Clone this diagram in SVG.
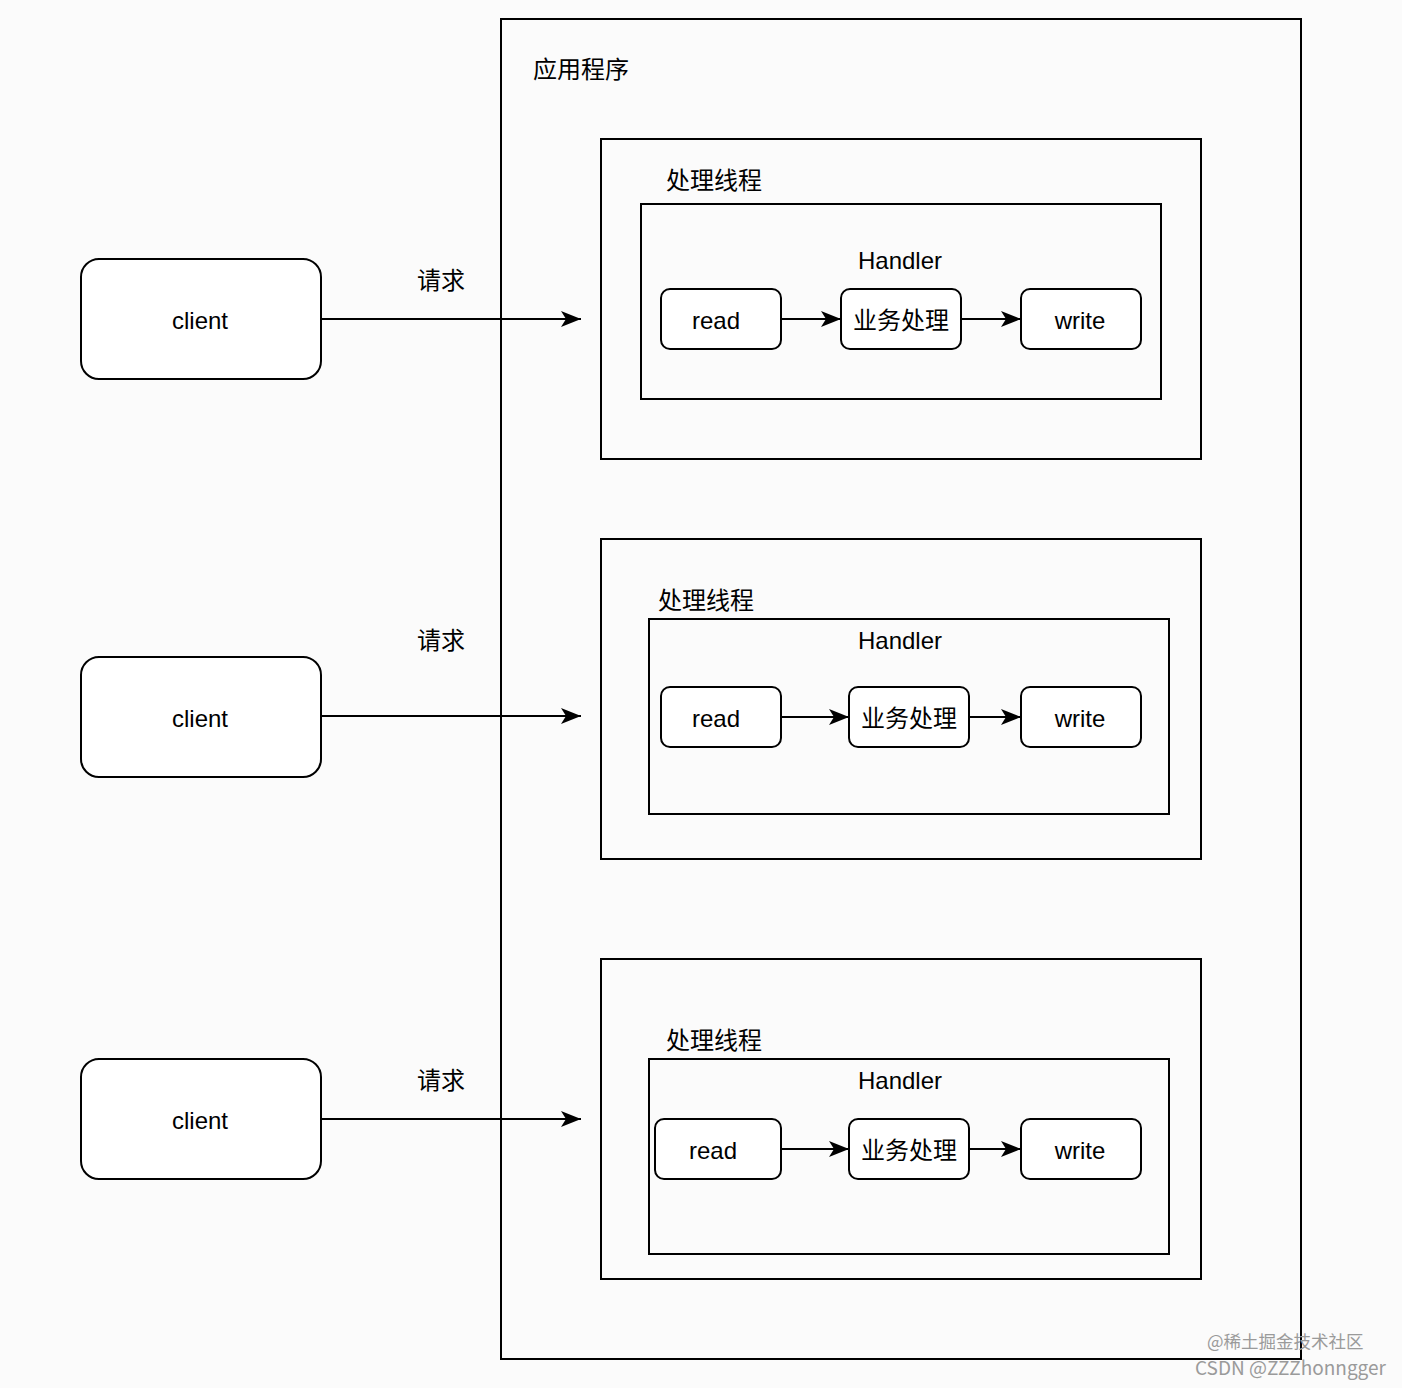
<svg xmlns="http://www.w3.org/2000/svg" width="1402" height="1388" viewBox="0 0 1402 1388">
<style>
.box{fill:none;stroke:#000;stroke-width:2}
.node{fill:#fff;stroke:#000;stroke-width:2}
.t{font-family:"Liberation Sans","Noto Sans CJK SC",sans-serif;font-size:24px;fill:#000}
.c{text-anchor:middle;dominant-baseline:central}
.edge{fill:none;stroke:#000;stroke-width:2;marker-end:url(#arr)}
.wm{font-family:"Noto Sans CJK SC","Noto Sans",sans-serif;fill:#9a9a9a}
</style>
<defs>
<marker id="arr" markerUnits="userSpaceOnUse" markerWidth="22" markerHeight="18" refX="20" refY="8" orient="auto" overflow="visible">
<path d="M0,0 L20,8 L0,16 L5,8 Z" fill="#000"/>
</marker>
</defs>
<rect width="1402" height="1388" fill="#fbfbfb"/>
<g id="app">
<rect class="box" x="501" y="19" width="800" height="1340"/>
<text class="t" x="533" y="78">应用程序</text>
</g>
<g id="thread1">
<rect class="box" x="601" y="139" width="600" height="320"/>
<text class="t c" x="714" y="180">处理线程</text>
</g>
<g id="handler1">
<rect class="box" x="641" y="204" width="520" height="195"/>
<text class="t c" x="900" y="260">Handler</text>
</g>
<g id="read1"><rect class="node" x="661" y="289" width="120" height="60" rx="9"/><text class="t c" x="716" y="320">read</text></g>
<g id="biz1"><rect class="node" x="841" y="289" width="120" height="60" rx="9"/><text class="t c" x="901" y="320">业务处理</text></g>
<g id="write1"><rect class="node" x="1021" y="289" width="120" height="60" rx="9"/><text class="t c" x="1080" y="320">write</text></g>

<g id="thread2">
<rect class="box" x="601" y="539" width="600" height="320"/>
<text class="t c" x="706" y="600">处理线程</text>
</g>
<g id="handler2">
<rect class="box" x="649" y="619" width="520" height="195"/>
<text class="t c" x="900" y="640">Handler</text>
</g>
<g id="read2"><rect class="node" x="661" y="687" width="120" height="60" rx="9"/><text class="t c" x="716" y="718">read</text></g>
<g id="biz2"><rect class="node" x="849" y="687" width="120" height="60" rx="9"/><text class="t c" x="909" y="718">业务处理</text></g>
<g id="write2"><rect class="node" x="1021" y="687" width="120" height="60" rx="9"/><text class="t c" x="1080" y="718">write</text></g>

<g id="thread3">
<rect class="box" x="601" y="959" width="600" height="320"/>
<text class="t c" x="714" y="1040">处理线程</text>
</g>
<g id="handler3">
<rect class="box" x="649" y="1059" width="520" height="195"/>
<text class="t c" x="900" y="1080">Handler</text>
</g>
<g id="read3"><rect class="node" x="655" y="1119" width="126" height="60" rx="9"/><text class="t c" x="713" y="1150">read</text></g>
<g id="biz3"><rect class="node" x="849" y="1119" width="120" height="60" rx="9"/><text class="t c" x="909" y="1150">业务处理</text></g>
<g id="write3"><rect class="node" x="1021" y="1119" width="120" height="60" rx="9"/><text class="t c" x="1080" y="1150">write</text></g>

<g id="client1"><rect class="node" x="81" y="259" width="240" height="120" rx="18"/><text class="t c" x="200" y="320">client</text></g>
<g id="client2"><rect class="node" x="81" y="657" width="240" height="120" rx="18"/><text class="t c" x="200" y="718">client</text></g>
<g id="client3"><rect class="node" x="81" y="1059" width="240" height="120" rx="18"/><text class="t c" x="200" y="1120">client</text></g>

<g id="connectors">
<path class="edge" d="M321,319 H581"/>
<path class="edge" d="M321,716 H581"/>
<path class="edge" d="M321,1119 H581"/>
<path class="edge" d="M781,319 H841"/>
<path class="edge" d="M961,319 H1021"/>
<path class="edge" d="M781,717 H849"/>
<path class="edge" d="M969,717 H1021"/>
<path class="edge" d="M781,1149 H849"/>
<path class="edge" d="M969,1149 H1021"/>
<text class="t c" x="441" y="280">请求</text>
<text class="t c" x="441" y="640">请求</text>
<text class="t c" x="441" y="1080">请求</text>
</g>
<g id="watermark">
<text class="wm" x="1207" y="1348" font-size="17.5">@稀土掘金技术社区</text>
<text class="wm" x="1195" y="1375" font-size="19">CSDN @ZZZhonngger</text>
</g>
</svg>
